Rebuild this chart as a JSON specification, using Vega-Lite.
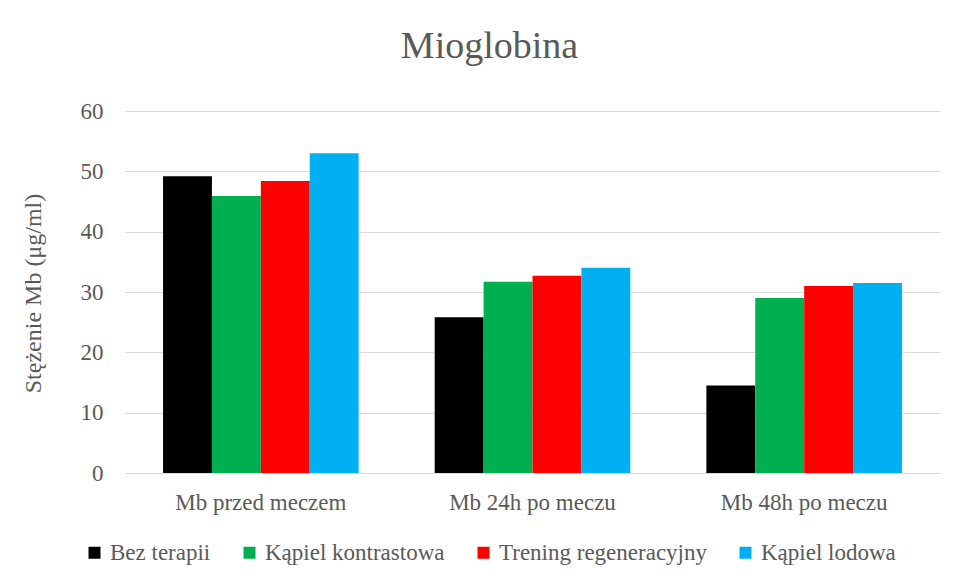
{
  "$schema": "https://vega.github.io/schema/vega-lite/v6.json",
  "width": 815,
  "height": 362,
  "autosize": "none",
  "padding": {"left": 125, "top": 111, "right": 15, "bottom": 109},
  "background": "white",
  "title": {
    "text": "Mioglobina",
    "font": "Liberation Serif",
    "fontSize": 38,
    "fontWeight": "normal",
    "color": "#595959",
    "anchor": "middle",
    "dx": -43,
    "offset": 34
  },
  "data": {
    "values": [
      {"group": "Mb przed meczem", "series": "Bez terapii", "value": 49.2},
      {"group": "Mb przed meczem", "series": "Kąpiel kontrastowa", "value": 45.9},
      {"group": "Mb przed meczem", "series": "Trening regeneracyjny", "value": 48.4},
      {"group": "Mb przed meczem", "series": "Kąpiel lodowa", "value": 53.0},
      {"group": "Mb 24h po meczu", "series": "Bez terapii", "value": 25.8},
      {"group": "Mb 24h po meczu", "series": "Kąpiel kontrastowa", "value": 31.7},
      {"group": "Mb 24h po meczu", "series": "Trening regeneracyjny", "value": 32.7},
      {"group": "Mb 24h po meczu", "series": "Kąpiel lodowa", "value": 34.0},
      {"group": "Mb 48h po meczu", "series": "Bez terapii", "value": 14.5},
      {"group": "Mb 48h po meczu", "series": "Kąpiel kontrastowa", "value": 29.0},
      {"group": "Mb 48h po meczu", "series": "Trening regeneracyjny", "value": 31.0},
      {"group": "Mb 48h po meczu", "series": "Kąpiel lodowa", "value": 31.5}
    ]
  },
  "mark": {"type": "bar"},
  "encoding": {
    "x": {
      "field": "group",
      "type": "nominal",
      "sort": ["Mb przed meczem", "Mb 24h po meczu", "Mb 48h po meczu"],
      "scale": {"paddingInner": 0.28, "paddingOuter": 0.14},
      "axis": {
        "title": null,
        "labelAngle": 0,
        "labelFont": "Liberation Serif",
        "labelFontSize": 23,
        "labelColor": "#595959",
        "labelPadding": 18,
        "labelLimit": 0,
        "ticks": false,
        "domain": true,
        "domainColor": "#d9d9d9",
        "grid": false
      }
    },
    "xOffset": {
      "field": "series",
      "type": "nominal",
      "sort": ["Bez terapii", "Kąpiel kontrastowa", "Trening regeneracyjny", "Kąpiel lodowa"],
      "scale": {"paddingInner": 0, "paddingOuter": 0}
    },
    "y": {
      "field": "value",
      "type": "quantitative",
      "scale": {"domain": [0, 60], "nice": false},
      "axis": {
        "title": "Stężenie Mb (μg/ml)",
        "titleFont": "Liberation Serif",
        "titleFontSize": 24,
        "titleFontWeight": "normal",
        "titleColor": "#595959",
        "titleAngle": -90,
        "titleAlign": "center",
        "titleBaseline": "middle",
        "titleX": -92,
        "titleY": 182,
        "values": [0, 10, 20, 30, 40, 50, 60],
        "labelFont": "Liberation Serif",
        "labelFontSize": 23,
        "labelColor": "#595959",
        "labelPadding": 22,
        "ticks": false,
        "domain": false,
        "grid": true,
        "gridColor": "#d9d9d9",
        "gridWidth": 1
      }
    },
    "color": {
      "field": "series",
      "type": "nominal",
      "sort": ["Bez terapii", "Kąpiel kontrastowa", "Trening regeneracyjny", "Kąpiel lodowa"],
      "scale": {
        "domain": ["Bez terapii", "Kąpiel kontrastowa", "Trening regeneracyjny", "Kąpiel lodowa"],
        "range": ["#000000", "#00B050", "#FF0000", "#00B0F0"]
      },
      "legend": {
        "title": null,
        "orient": "none",
        "direction": "horizontal",
        "legendX": -42,
        "legendY": 430,
        "symbolType": "square",
        "symbolSize": 144,
        "symbolStrokeWidth": 0,
        "labelFont": "Liberation Serif",
        "labelFontSize": 23,
        "labelColor": "#595959",
        "labelOffset": 4,
        "labelLimit": 0,
        "columnPadding": 27
      }
    }
  },
  "config": {
    "view": {"stroke": null}
  }
}
